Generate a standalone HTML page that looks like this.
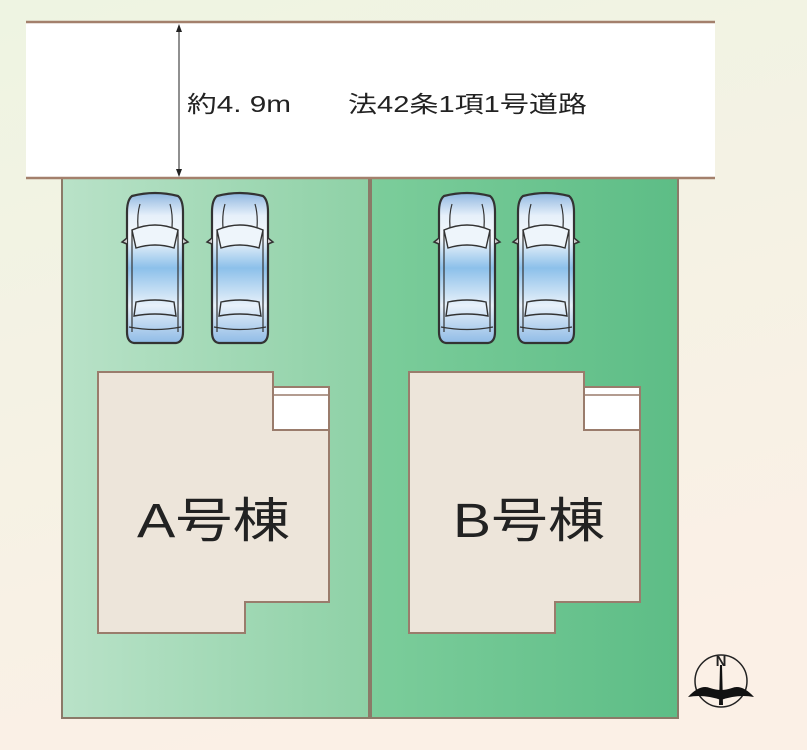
<!DOCTYPE html>
<html><head><meta charset="utf-8"><style>
html,body{margin:0;padding:0;width:807px;height:750px;overflow:hidden}
svg{display:block}
</style></head><body>
<svg width="807" height="750" viewBox="0 0 807 750" xmlns="http://www.w3.org/2000/svg">
<defs>
<linearGradient id="bg" x1="0" y1="0" x2="0.3" y2="1">
<stop offset="0" stop-color="#eef4e2"/><stop offset="1" stop-color="#fbf0e6"/></linearGradient>
<linearGradient id="la" x1="0" y1="0" x2="1" y2="0">
<stop offset="0" stop-color="#b9e2c8"/><stop offset="1" stop-color="#8ed1a6"/></linearGradient>
<linearGradient id="lb" x1="0" y1="0" x2="1" y2="0">
<stop offset="0" stop-color="#7ccd9b"/><stop offset="1" stop-color="#5dbd86"/></linearGradient>
<linearGradient id="cg" x1="0" y1="0" x2="0" y2="1">
<stop offset="0" stop-color="#8fb7e0"/><stop offset="0.15" stop-color="#e6f0fa"/><stop offset="0.3" stop-color="#f4f8fc"/><stop offset="0.5" stop-color="#8cc0ea"/><stop offset="0.75" stop-color="#e8f1fa"/><stop offset="1" stop-color="#8fbbe6"/></linearGradient>
<g id="car">
<path d="M6,4 Q29,-2 52,4 Q57,8 57,20 L57,140 Q57,150 50,151 L8,151 Q1,150 1,140 L1,20 Q1,8 6,4Z" fill="url(#cg)" stroke="#333" stroke-width="2.2"/>
<path d="M6,38 Q29,28 52,38 L48,56 Q29,50 10,56Z" fill="#eef5fb" stroke="#333" stroke-width="1.4"/>
<path d="M10,110 Q29,106 48,110 L50,124 Q29,120 8,124Z" fill="none" stroke="#333" stroke-width="1.4"/>
<path d="M6,38 L6,140 M52,38 L52,140" stroke="#333" stroke-width="1.2" fill="none"/>
<path d="M14,12 Q11,22 12,36 M44,12 Q47,22 46,36" stroke="#333" stroke-width="1.2" fill="none"/>
<path d="M1,46 L-4,50 L1,52 M57,46 L62,50 L57,52" stroke="#333" stroke-width="1.5" fill="#ccc"/>
<path d="M3,135 Q29,140 55,135" stroke="#333" stroke-width="1.2" fill="none"/>
</g>
</defs>
<rect width="807" height="750" fill="url(#bg)"/>
<rect x="26" y="22" width="689" height="156" fill="#fff"/>
<line x1="26" y1="22" x2="715" y2="22" stroke="#a3806c" stroke-width="2.5"/>
<rect x="62" y="178" width="307" height="540" fill="url(#la)" stroke="#8b7a68" stroke-width="2"/>
<rect x="371" y="178" width="307" height="540" fill="url(#lb)" stroke="#8b7a68" stroke-width="2"/>
<line x1="26" y1="178" x2="715" y2="178" stroke="#a3806c" stroke-width="2.5"/>
<line x1="179" y1="26" x2="179" y2="175" stroke="#222" stroke-width="1"/>
<path d="M176,32 L179,24 L182,32Z M176,169 L179,177 L182,169Z" fill="#222"/>
<text x="187" y="112" font-family="Liberation Sans, Noto Sans CJK JP, sans-serif" font-size="23" fill="#222" textLength="104" lengthAdjust="spacingAndGlyphs">約4. 9m</text>
<text x="348" y="112" font-family="Liberation Sans, Noto Sans CJK JP, sans-serif" font-size="23" fill="#222" textLength="239" lengthAdjust="spacingAndGlyphs">法42条1項1号道路</text>
<use href="#car" x="126" y="192"/>
<use href="#car" x="211" y="192"/>
<use href="#car" x="438" y="192"/>
<use href="#car" x="517" y="192"/>
<path d="M98,372 L273,372 L273,387 L329,387 L329,602 L245,602 L245,633 L98,633Z" fill="#ede5da" stroke="#9a7c6c" stroke-width="2"/>
<rect x="273" y="387" width="56" height="43" fill="#fff" stroke="#9a7c6c" stroke-width="2"/>
<line x1="273" y1="395" x2="329" y2="395" stroke="#9a7c6c" stroke-width="1.5"/>
<path d="M409,372 L584,372 L584,387 L640,387 L640,602 L555,602 L555,633 L409,633Z" fill="#ede5da" stroke="#9a7c6c" stroke-width="2"/>
<rect x="584" y="387" width="56" height="43" fill="#fff" stroke="#9a7c6c" stroke-width="2"/>
<line x1="584" y1="395" x2="640" y2="395" stroke="#9a7c6c" stroke-width="1.5"/>
<text x="137" y="537" font-family="Liberation Sans, Noto Sans CJK JP, sans-serif" font-size="48" fill="#222" textLength="153" lengthAdjust="spacingAndGlyphs">A号棟</text>
<text x="453" y="537" font-family="Liberation Sans, Noto Sans CJK JP, sans-serif" font-size="48" fill="#222" textLength="152" lengthAdjust="spacingAndGlyphs">B号棟</text>
<circle cx="721" cy="681" r="26" fill="none" stroke="#222" stroke-width="1.5"/>
<text x="721" y="666" text-anchor="middle" font-family="Liberation Sans, sans-serif" font-size="15" font-weight="bold" fill="#222">N</text>
<path d="M720,665 L722,665 L723,705 L719,705Z" fill="#111"/>
<path d="M688,697 Q700,684 710,688 Q716,690 721,690 Q726,690 732,688 Q742,684 754,697 Q738,694 721,700 Q704,694 688,697Z" fill="#111"/>
</svg>
</body></html>
